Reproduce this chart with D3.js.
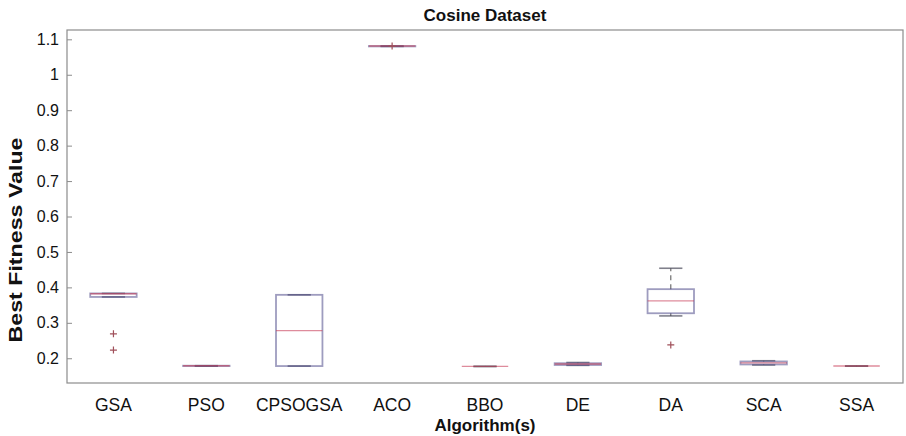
<!DOCTYPE html>
<html>
<head>
<meta charset="utf-8">
<script src="https://cdn.jsdelivr.net/npm/d3@7"></script>
<style>
  html, body { margin: 0; padding: 0; background: #fff; }
  svg { display: block; font-family: "Liberation Sans", Arial, sans-serif; }
</style>
</head>
<body>
<svg id="chart" width="906" height="436"></svg>
<script>
// Box-plot summaries of best fitness per algorithm (Cosine dataset)
const algorithms  = ["GSA", "PSO", "CPSOGSA", "ACO", "BBO", "DE", "DA", "SCA", "SSA"];
const whiskerLow  = [0.373, 0.178, 0.178, 1.080, 0.177, 0.180, 0.3195, 0.181, 0.178];
const lowerQuart  = [0.373, 0.178, 0.178, 1.080, 0.177, 0.181, 0.327, 0.1825, 0.178];
const medians     = [0.382, 0.179, 0.278, 1.081, 0.177, 0.184, 0.362, 0.187, 0.178];
const upperQuart  = [0.383, 0.179, 0.379, 1.081, 0.177, 0.186, 0.395, 0.191, 0.178];
const whiskerHigh = [0.383, 0.179, 0.379, 1.081, 0.177, 0.188, 0.454, 0.193, 0.178];
const outliers    = [[0.269, 0.223], [], [], [1.081], [], [], [0.2376], [], []];
const yTicks      = [0.2, 0.3, 0.4, 0.5, 0.6, 0.7, 0.8, 0.9, 1, 1.1];

const svg = d3.select("#chart");
const m = { left: 67, right: 903, top: 30, bottom: 383 };

const x = d3.scaleBand().domain(algorithms).range([m.left, m.right]).padding(0);
const y = d3.scaleLinear().domain([0.1302, 1.1263]).range([m.bottom, m.top]);

const boxW = x.bandwidth() * 0.5;
const capW = boxW * 0.5;

// frame
svg.append("rect")
  .attr("x", m.left).attr("y", m.top)
  .attr("width", m.right - m.left).attr("height", m.bottom - m.top)
  .attr("fill", "none").attr("stroke", "#8c8c8c").attr("stroke-width", 1.2);

// y axis with inward ticks
const yAxis = d3.axisLeft(y).tickValues(yTicks).tickSizeInner(-5).tickSizeOuter(0)
  .tickPadding(8).tickFormat(d3.format("~g"));
const gy = svg.append("g").attr("transform", `translate(${m.left},0)`).call(yAxis);
gy.select(".domain").remove();
gy.selectAll(".tick line").attr("stroke", "#8c8c8c");
gy.selectAll(".tick text").attr("font-size", 16).attr("fill", "#111")
  .attr("font-family", "Liberation Sans, Arial, sans-serif");

// x axis labels
const xAxis = d3.axisBottom(x).tickSize(0).tickPadding(16);
const gx = svg.append("g").attr("transform", `translate(0,${m.bottom})`).call(xAxis);
gx.select(".domain").remove();
gx.selectAll(".tick text").attr("font-size", 17.5).attr("fill", "#111")
  .attr("font-family", "Liberation Sans, Arial, sans-serif");

// boxes
const data = algorithms.map((a, i) => ({
  a, lo: whiskerLow[i], q1: lowerQuart[i], med: medians[i],
  q3: upperQuart[i], hi: whiskerHigh[i], out: outliers[i]
}));

const g = svg.append("g");
data.forEach(d => {
  const cx = x(d.a) + x.bandwidth() / 2;
  const gg = g.append("g");
  // whiskers (dashed)
  gg.append("line").attr("x1", cx).attr("x2", cx)
    .attr("y1", y(d.q3)).attr("y2", y(d.hi))
    .attr("stroke", "#6e6e6e").attr("stroke-width", 1.2).attr("stroke-dasharray", "5,4");
  gg.append("line").attr("x1", cx).attr("x2", cx)
    .attr("y1", y(d.q1)).attr("y2", y(d.lo))
    .attr("stroke", "#6e6e6e").attr("stroke-width", 1.2).attr("stroke-dasharray", "5,4");
  // caps
  [d.lo, d.hi].forEach(v => {
    gg.append("line").attr("x1", cx - capW / 2).attr("x2", cx + capW / 2)
      .attr("y1", y(v)).attr("y2", y(v))
      .attr("stroke", "#4a4a5a").attr("stroke-width", 1.6).attr("stroke-opacity", 0.7);
  });
  // box
  gg.append("rect").attr("x", cx - boxW / 2).attr("width", boxW)
    .attr("y", y(d.q3)).attr("height", Math.max(0, y(d.q1) - y(d.q3)))
    .attr("fill", "none").attr("stroke", "#4f4a8a").attr("stroke-width", 1.8)
    .attr("stroke-opacity", 0.55);
  // median
  gg.append("line").attr("x1", cx - boxW / 2).attr("x2", cx + boxW / 2)
    .attr("y1", y(d.med)).attr("y2", y(d.med))
    .attr("stroke", "#c8405a").attr("stroke-width", 1.4).attr("stroke-opacity", 0.6);
  // outliers
  d.out.forEach(v => {
    gg.append("path")
      .attr("d", `M${cx - 3.5},${y(v)}h7M${cx},${y(v) - 3.5}v7`)
      .attr("stroke", "#a0505a").attr("stroke-width", 1.2);
  });
});

// title and axis labels
svg.append("text").attr("x", (m.left + m.right) / 2).attr("y", 21)
  .attr("text-anchor", "middle").attr("font-size", 17).attr("font-weight", "bold")
  .attr("fill", "#111").text("Cosine Dataset");

svg.append("text").attr("x", (m.left + m.right) / 2).attr("y", 431)
  .attr("text-anchor", "middle").attr("font-size", 17).attr("font-weight", "bold")
  .attr("fill", "#111").text("Algorithm(s)");

svg.append("text")
  .attr("transform", `translate(22,240) rotate(-90)`)
  .attr("text-anchor", "middle").attr("font-size", 18).attr("font-weight", "bold")
  .attr("textLength", 205).attr("lengthAdjust", "spacingAndGlyphs")
  .attr("fill", "#111").text("Best Fitness Value");
</script>
</body>
</html>
